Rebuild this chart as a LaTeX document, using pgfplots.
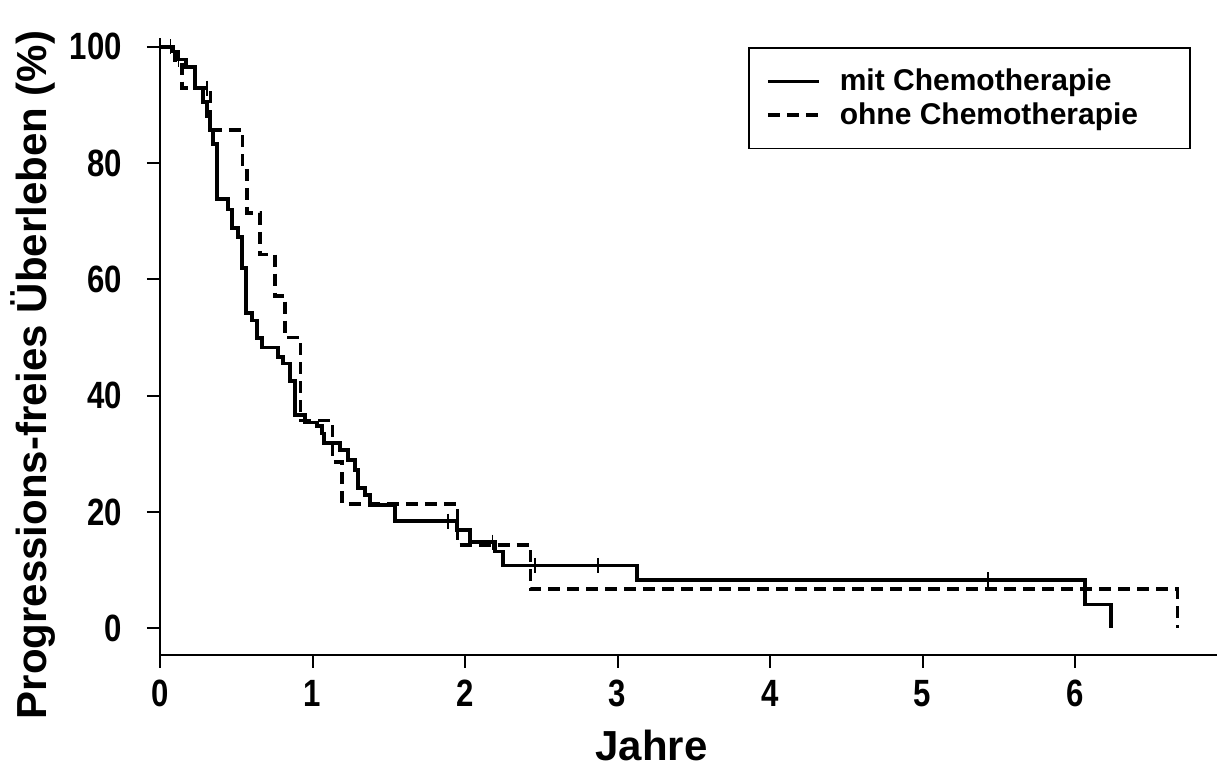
\documentclass[border=0pt]{standalone}
\usepackage{fontspec}
\setmainfont{Liberation Sans}
\newfontfamily\narrowsans{Liberation Sans}[FakeStretch=0.82]
\usepackage{pgfplots}
\pgfplotsset{compat=1.18}

\begin{document}
\begin{tikzpicture}
\useasboundingbox (-80pt,-58pt) rectangle (528.5pt,327.5pt);
\begin{axis}[
  scale only axis, width=528.5pt, height=308.5pt,
  at={(0,0)}, anchor=south west,
  xmin=0, xmax=6.93, ymin=-4.6, ymax=101.5,
  axis x line=bottom, axis y line=left,
  axis line style={-, line width=1.2pt},
  xtick={0,1,...,6}, ytick={0,20,...,100},
  tick align=outside, major tick length=6.5pt,
  tick style={line width=1pt, black},
  /pgf/number format/assume math mode=true,
  ticklabel style={font=\narrowsans\fontsize{19}{19}\selectfont\bfseries},
  xticklabel style={yshift=-2.5pt},
  yticklabel style={xshift=-9pt},
  xlabel={Jahre}, ylabel={Progressions-freies Überleben (\%)},
  label style={font=\fontsize{21}{21}\selectfont\bfseries},
  xlabel style={at={(axis description cs:0.465,-0.146)}, anchor=center},
  ylabel style={at={(axis description cs:-0.120,0.454)}, anchor=center},
  legend style={at={(axis description cs:0.975,0.985)}, anchor=north east,
    draw=black, line width=0.8pt, font=\fontsize{15}{15}\selectfont\bfseries,
    inner xsep=8.5pt, inner ysep=8.5pt, row sep=0.5pt,
    /tikz/every odd column/.append style={column sep=7.5pt},
    cells={anchor=west}},
  legend image code/.code={\draw[#1] (0pt,0pt) -- (25.5pt,0pt);},
]
% mit Chemotherapie
\addplot[const plot, black, line width=1.8pt] coordinates {
  (0,100) (0.085,99.2) (0.118,97.8) (0.170,96.5) (0.230,92.9)
  (0.282,90.5) (0.308,88.1) (0.328,85.7) (0.348,83.3) (0.374,73.8)
  (0.446,72.0) (0.472,68.8) (0.511,67.3) (0.538,61.9) (0.564,54.2)
  (0.603,52.9) (0.636,49.9) (0.669,48.3) (0.774,46.6) (0.807,45.5)
  (0.852,42.5) (0.885,36.7) (0.951,35.4) (1.030,34.8) (1.062,33.5)
  (1.075,31.9) (1.180,30.6) (1.233,28.9) (1.279,27.2) (1.298,24.1)
  (1.344,22.9) (1.377,21.2) (1.541,18.4) (1.948,16.9) (2.033,14.8)
  (2.197,13.2) (2.249,10.8) (3.128,8.3) (6.066,4.1) (6.236,0)
};
\addlegendentry{\makebox[164.5pt][l]{mit Chemotherapie}}
% ohne Chemotherapie
\addplot[const plot, black, line width=1.8pt, dash pattern=on 6pt off 3.5pt] coordinates {
  (0,100) (0.095,97.6) (0.145,92.9) (0.330,85.7) (0.540,78.6)
  (0.570,71.4) (0.655,64.3) (0.755,57.1) (0.820,50.0) (0.920,35.7)
  (1.130,28.6) (1.195,21.4) (1.950,14.3) (2.430,6.7) (6.670,0)
};
\addlegendentry{\makebox[164.5pt][l]{ohne Chemotherapie}}
% censored observations
\addplot[only marks, black, mark=|, mark size=3.75pt, mark options={line width=0.8pt}, forget plot] coordinates {
  (0.07,100) (0.12,97.8) (0.31,92.9)
  (1.89,18.4) (2.18,14.8) (2.46,10.8) (2.87,10.8) (5.43,8.3)
};
\end{axis}
\end{tikzpicture}
\end{document}
